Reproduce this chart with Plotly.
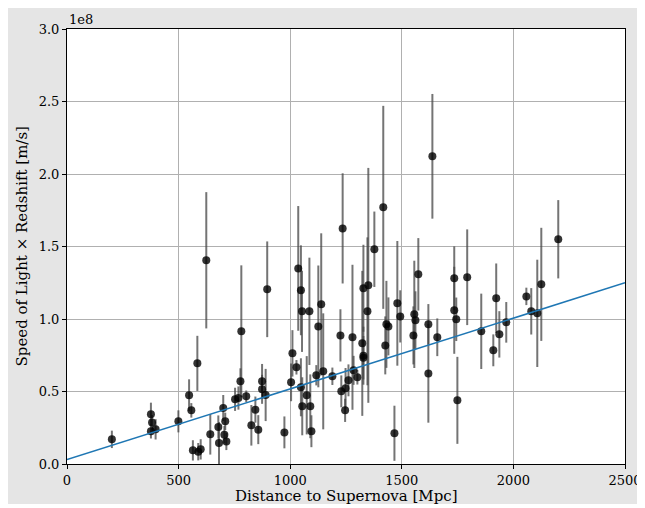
import plotly.graph_objects as go

# Distance to supernova [Mpc]
distance_mpc = [201, 376, 381, 376, 397, 499, 547, 557, 624, 584, 564, 588, 599, 642, 678, 681,
                700, 709, 705, 714, 753, 768, 777, 781, 803, 826, 844, 857, 874, 874, 890, 897,
                974, 1004, 1010, 1028, 1036, 1048, 1053, 1048, 1054, 1074, 1086, 1090, 1095,
                1117, 1126, 1139, 1148, 1189, 1235, 1225, 1229, 1248, 1246, 1261, 1279, 1284,
                1301, 1323, 1328, 1328, 1328, 1346, 1350, 1377, 1417, 1426, 1431, 1440, 1467,
                1480, 1493, 1556, 1552, 1561, 1574, 1619, 1619, 1637, 1659, 1735, 1735, 1744,
                1749, 1793, 1856, 1910, 1923, 1937, 1968, 2058, 2080, 2107, 2125, 2201]

# c * z  [1e8 m/s]
cz_1e8 = [0.170, 0.343, 0.287, 0.226, 0.239, 0.294, 0.474, 0.370, 1.405, 0.694, 0.094, 0.085,
          0.101, 0.205, 0.255, 0.145, 0.386, 0.294, 0.202, 0.156, 0.446, 0.455, 0.570, 0.915,
          0.467, 0.267, 0.375, 0.237, 0.570, 0.515, 0.476, 1.205, 0.218, 0.563, 0.763, 0.667,
          1.349, 1.198, 1.053, 0.529, 0.398, 0.474, 1.053, 0.398, 0.226, 0.612, 0.949, 1.101,
          0.639, 0.605, 1.625, 0.887, 0.501, 0.522, 0.370, 0.577, 0.874, 0.646, 0.598, 0.832,
          1.212, 0.747, 0.733, 1.053, 1.232, 1.481, 1.770, 0.818, 0.963, 0.949, 0.212, 1.108,
          1.018, 1.032, 0.887, 0.991, 1.308, 0.963, 0.625, 2.122, 0.874, 1.281, 1.060, 0.998,
          0.439, 1.288, 0.915, 0.784, 1.143, 0.894, 0.977, 1.156, 1.053, 1.039, 1.239, 1.550]

# uncertainty [1e8 m/s]
cz_err_1e8 = [0.06, 0.08, 0.05, 0.05, 0.07, 0.076, 0.11, 0.05, 0.47, 0.19, 0.07, 0.06, 0.07,
              0.14, 0.08, 0.145, 0.09, 0.06, 0.06, 0.06, 0.08, 0.08, 0.09, 0.455, 0.04, 0.14,
              0.09, 0.10, 0.12, 0.10, 0.18, 0.33, 0.11, 0.13, 0.16, 0.05, 0.43, 0.31, 0.28,
              0.20, 0.20, 0.27, 0.37, 0.22, 0.11, 0.07, 0.42, 0.49, 0.40, 0.06, 0.38, 0.18,
              0.11, 0.14, 0.08, 0.11, 0.50, 0.10, 0.05, 0.50, 0.30, 0.20, 0.15, 0.51, 0.81,
              0.26, 0.70, 0.20, 0.30, 0.20, 0.19, 0.43, 0.18, 0.37, 0.20, 0.20, 0.25, 0.14,
              0.34, 0.43, 0.13, 0.22, 0.30, 0.15, 0.30, 0.33, 0.26, 0.11, 0.24, 0.16, 0.14,
              0.06, 0.16, 0.37, 0.39, 0.27]

# fitted line (1e8 m/s)
fit_intercept = 0.03
fit_slope = 0.000488
fit_x = [0, 2500]
fit_y = [fit_intercept + fit_slope * v for v in fit_x]

y_ticks = [0.0, 0.5, 1.0, 1.5, 2.0, 2.5, 3.0]
x_ticks = [0, 500, 1000, 1500, 2000, 2500]

x_title = "Distance to Supernova [Mpc]"
y_title = "Speed of Light × Redshift [m/s]"

FONT = "DejaVu Serif"

fig = go.Figure()
fig.add_trace(go.Scatter(
    x=distance_mpc, y=cz_1e8, mode="markers",
    marker=dict(color="rgba(0,0,0,0.8)", size=8, line=dict(width=0)),
    error_y=dict(type="data", array=cz_err_1e8, visible=True,
                 color="rgba(70,70,70,0.75)", thickness=2, width=0),
    showlegend=False,
))
fig.add_trace(go.Scatter(
    x=fit_x, y=fit_y, mode="lines",
    line=dict(color="#1f77b4", width=1.5), showlegend=False,
))

axis_common = dict(
    showline=True, linecolor="black", linewidth=1, mirror=True,
    ticks="outside", ticklen=4, tickcolor="black", tickwidth=1,
    showgrid=True, gridcolor="#b0b0b0", gridwidth=1, zeroline=False,
    tickfont=dict(family=FONT, size=13, color="black"),
    automargin=False, ticklabeloverflow="allow",
)

fig.update_xaxes(range=[0, 2500], tickvals=x_ticks, ticktext=[str(v) for v in x_ticks],
                 **axis_common)
fig.update_yaxes(range=[0, 3.0], tickvals=y_ticks, ticktext=[f"{v:.1f}" for v in y_ticks],
                 **axis_common)

title_font = dict(family=FONT, size=15, color="black")
fig.add_annotation(text=x_title, xref="paper", yref="paper", x=0.5, y=0,
                   xanchor="center", yanchor="middle", yshift=-32,
                   showarrow=False, font=title_font)
fig.add_annotation(text=y_title, xref="paper", yref="paper", x=0, y=0.5,
                   xanchor="center", yanchor="middle", xshift=-46, textangle=-90,
                   showarrow=False, font=title_font)
fig.add_annotation(text="1e8", xref="paper", yref="paper", x=0, y=1.0,
                   xanchor="left", yanchor="bottom", showarrow=False,
                   font=dict(family=FONT, size=13, color="black"))

fig.update_layout(
    width=635, height=496,
    margin=dict(l=59, r=18, t=21, b=40),
    paper_bgcolor="#e5e5e5", plot_bgcolor="white",
    font=dict(family=FONT, color="black"),
)

fig.write_html("out.html")
